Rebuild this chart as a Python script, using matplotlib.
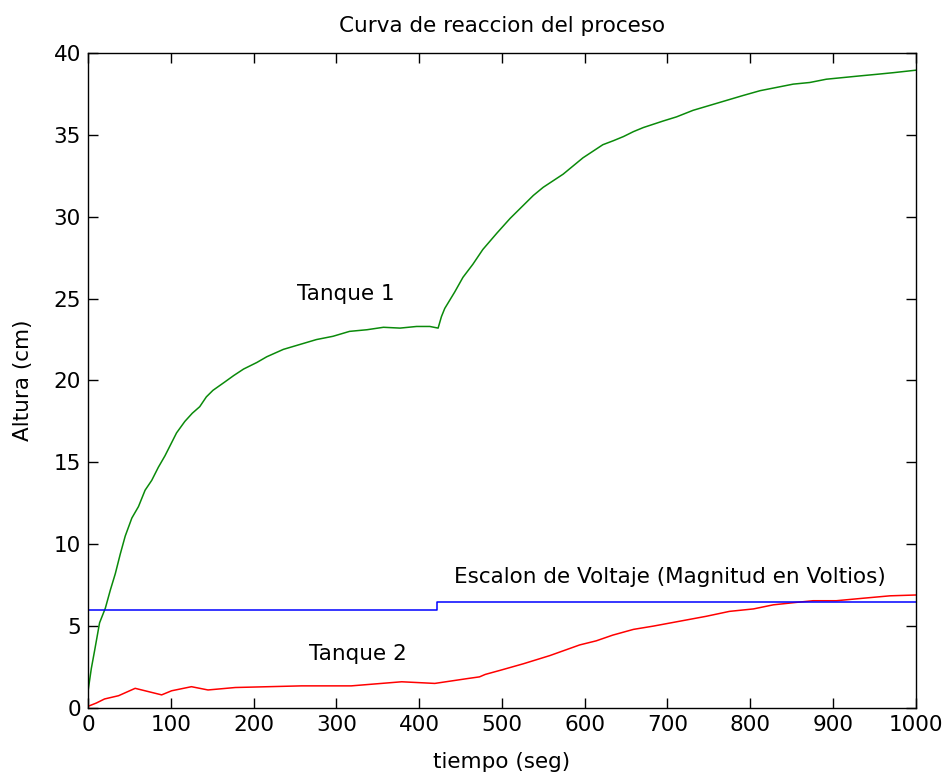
import matplotlib
matplotlib.use("Agg")
import matplotlib.pyplot as plt

# Tanque 1 (green)
t_tanque1 = [0, 4, 8, 14, 21, 27, 33, 39, 45, 53, 61, 69, 77, 85, 93, 100, 107, 117,
             126, 135, 143, 151, 165, 176, 188, 204, 216, 236, 256, 276, 296, 316,
             337, 357, 377, 397, 413, 423, 427, 431, 437, 443, 453, 465, 477, 494,
             510, 526, 538, 550, 562, 574, 586, 598, 610, 622, 635, 647, 659, 671,
             683, 695, 711, 731, 751, 771, 791, 812, 832, 852, 872, 892, 912, 932,
             953, 973, 1000]
h_tanque1 = [1.0, 2.4, 3.5, 5.2, 6.1, 7.2, 8.2, 9.4, 10.5, 11.6, 12.3, 13.3, 13.9,
             14.7, 15.4, 16.1, 16.8, 17.5, 18.0, 18.4, 19.0, 19.4, 19.9, 20.3,
             20.7, 21.1, 21.45, 21.9, 22.2, 22.5, 22.7, 23.0, 23.1, 23.25, 23.2,
             23.3, 23.3, 23.2, 23.9, 24.4, 24.9, 25.4, 26.3, 27.1, 28.0, 29.0, 29.9,
             30.7, 31.3, 31.8, 32.2, 32.6, 33.1, 33.6, 34.0, 34.4, 34.65, 34.9,
             35.2, 35.45, 35.65, 35.85, 36.1, 36.5, 36.8, 37.1, 37.4, 37.7, 37.9,
             38.1, 38.2, 38.4, 38.5, 38.6, 38.7, 38.8, 38.95]

# Tanque 2 (red)
t_tanque2 = [0, 10, 20, 37, 57, 69, 89, 101, 125, 145, 178, 218, 258, 318, 379,
             419, 439, 459, 473, 480, 498, 526, 558, 594, 614, 634, 659, 683, 715,
             747, 775, 804, 828, 856, 876, 904, 936, 969, 1000]
h_tanque2 = [0.1, 0.3, 0.55, 0.75, 1.2, 1.05, 0.8, 1.05, 1.3, 1.1, 1.25, 1.3,
             1.35, 1.35, 1.6, 1.5, 1.65, 1.8, 1.9, 2.05, 2.3, 2.7, 3.2, 3.85, 4.1,
             4.45, 4.8, 5.0, 5.3, 5.6, 5.9, 6.05, 6.3, 6.45, 6.55, 6.55, 6.7,
             6.85, 6.9]

# Escalon de voltaje (blue)
t_escalon = [0, 422, 1000]
v_escalon = [6.0, 6.5, 6.5]

x_ticks = [0, 100, 200, 300, 400, 500, 600, 700, 800, 900, 1000]
y_ticks = [0, 5, 10, 15, 20, 25, 30, 35, 40]

plt.rcParams["font.family"] = "DejaVu Sans"

fig = plt.figure(figsize=(9.46, 7.74), dpi=100)
ax = fig.add_axes([0.093, 0.0853, 0.875, 0.8462])

ax.plot(t_tanque1, h_tanque1, color="#0a8a0a", linewidth=1.1)
ax.plot(t_tanque2, h_tanque2, color="#ff0000", linewidth=1.1)
ax.step(t_escalon, v_escalon, where="post", color="#0000ff", linewidth=1.1)

ax.text(312, 25.3, "Tanque 1", fontsize=15.5, ha="center", va="center")
ax.text(326, 3.3, "Tanque 2", fontsize=15.5, ha="center", va="center")
ax.text(703, 8.0, "Escalon de Voltaje (Magnitud en Voltios)", fontsize=15.5,
        ha="center", va="center")

ax.set_xlim(0, 1000)
ax.set_ylim(0, 40)
ax.set_xticks(x_ticks)
ax.set_yticks(y_ticks)
ax.tick_params(direction="in", length=7, width=1, top=True, right=True,
               labelsize=15.5, pad=5)
for s in ax.spines.values():
    s.set_linewidth(1)

ax.set_title("Curva de reaccion del proceso", fontsize=15.5, pad=15)
ax.set_xlabel("tiempo (seg)", fontsize=15.5, labelpad=12)
ax.set_ylabel("Altura (cm)", fontsize=15.5, labelpad=15)

fig.savefig("out.png", dpi=100)
